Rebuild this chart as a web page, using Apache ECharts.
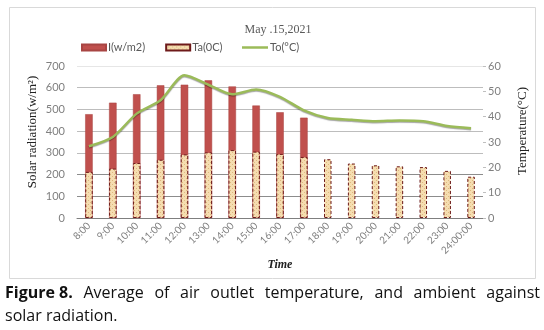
<!DOCTYPE html>
<html>
<head>
<meta charset="utf-8">
<script src="https://cdn.jsdelivr.net/npm/echarts@6/dist/echarts.min.js"></script>
<style>
  html, body { margin: 0; padding: 0; background: #fff; }
  #chart { width: 544px; height: 330px; }
</style>
</head>
<body>
<div id="chart"></div>
<script>
// Hourly readings, 15 May 2021
const hours = ['8:00', '9:00', '10:00', '11:00', '12:00', '13:00', '14:00', '15:00', '16:00',
               '17:00', '18:00', '19:00', '20:00', '21:00', '22:00', '23:00', '24:00:00'];
// Solar radiation I (W/m2)
const radiation = [478, 531, 570, 611, 614, 634, 606, 518, 487, 462,
                   null, null, null, null, null, null, null];
// Ambient temperature Ta (°C)
const ambientTemp = [18.2, 19.5, 21.7, 23.0, 25.1, 25.9, 26.8, 26.2, 25.3, 24.1,
                     23.2, 21.5, 20.8, 20.4, 20.1, 18.6, 16.3];
// Air outlet temperature To (°C)
const outletTemp = [28.3, 32.0, 41.2, 46.5, 56.3, 52.6, 48.8, 50.7, 47.8, 42.5,
                    39.5, 38.8, 38.2, 38.5, 38.2, 36.3, 35.4];
const radiationTicks = { min: 0, max: 700, step: 100 };
const tempTicks = { min: 0, max: 60, step: 10 };

// Dotted beige fill for the ambient temperature bars
function dottedFill() {
  const c = document.createElement('canvas');
  c.width = 4; c.height = 4;
  const g = c.getContext('2d');
  g.fillStyle = '#f5ddb0';
  g.fillRect(0, 0, 4, 4);
  g.fillStyle = '#dfb97f';
  g.fillRect(0, 0, 1, 1);
  g.fillRect(2, 2, 1, 1);
  return c;
}

// Caption lines; the first one is justified across the page width
const captionBold = 'Figure 8.';
const captionLine1 = 'Average of air outlet temperature, and ambient against';
const captionLine2 = 'solar radiation.';

function justifiedCaption(x0, x1, y) {
  const ctx = document.createElement('canvas').getContext('2d');
  const words = [{ t: captionBold, font: 'bold 16px "Open Sans"' }]
    .concat(captionLine1.split(' ').map(t => ({ t, font: '16px "Open Sans"' })));
  let total = 0;
  words.forEach(w => { ctx.font = w.font; w.w = ctx.measureText(w.t).width; total += w.w; });
  const gap = (x1 - x0 - total) / (words.length - 1);
  let x = x0;
  return words.map(w => {
    const el = {
      type: 'text', x: x, y: y,
      style: { text: w.t, font: w.font, fill: '#111', verticalAlign: 'middle' }
    };
    x += w.w + gap;
    return el;
  });
}

const chart = echarts.init(document.getElementById('chart'), null, { renderer: 'canvas' });
const gridLeft = 77, gridTop = 66, gridBottom = 112, gridRight = 61;
const legendText = { fontFamily: 'Lato', fontSize: 11, color: '#595959', padding: [0, 0, 0, -3] };

chart.setOption({
  animation: false,
  backgroundColor: '#fff',
  title: {
    text: 'May .15,2021',
    left: 273, top: 19, textAlign: 'center',
    textStyle: { fontFamily: 'Liberation Serif', fontWeight: 'normal', fontSize: 12, color: '#595959' }
  },
  legend: [
    {
      left: 81, top: 42, padding: 0,
      itemWidth: 24, itemHeight: 6, itemGap: 20,
      textStyle: legendText,
      data: [
        { name: 'I(w/m2)', icon: 'rect' },
        { name: 'Ta(0C)', icon: 'rect' }
      ]
    },
    {
      left: 242, top: 42, padding: 0,
      itemWidth: 26, itemHeight: 2.5,
      textStyle: legendText,
      data: [{ name: 'To(°C)', icon: 'rect' }]
    }
  ],
  grid: { left: gridLeft, right: gridRight, top: gridTop, bottom: gridBottom },
  xAxis: {
    type: 'category',
    data: hours,
    axisLine: { lineStyle: { color: '#7f7f7f' } },
    axisTick: { show: false },
    axisLabel: {
      rotate: 45, interval: 0, margin: 6,
      fontFamily: 'Lato', fontSize: 10, color: '#7f7f7f'
    },
    name: 'Time', nameLocation: 'middle', nameGap: 37,
    nameTextStyle: { fontFamily: 'Liberation Serif', fontStyle: 'italic', fontWeight: 'bold', fontSize: 12, color: '#222' }
  },
  yAxis: [
    {
      type: 'value',
      min: radiationTicks.min, max: radiationTicks.max, interval: radiationTicks.step,
      axisLine: { show: false },
      axisTick: { show: false },
      axisLabel: { fontFamily: 'Lato', fontSize: 11, color: '#7f7f7f', margin: 12 },
      splitLine: {
        lineStyle: {
          color: ['#8c8c8c', '#8c8c8c', '#8c8c8c', '#bdbdbd', '#bdbdbd', '#bdbdbd', '#bdbdbd', '#e6e6e6']
        }
      }
    },
    {
      type: 'value',
      min: tempTicks.min, max: tempTicks.max, interval: tempTicks.step,
      axisLine: { show: false },
      axisTick: { show: true, inside: false, length: 3, lineStyle: { color: '#bfbfbf' } },
      axisLabel: { fontFamily: 'Lato', fontSize: 11, color: '#7f7f7f', margin: 5 },
      splitLine: { show: false }
    }
  ],
  graphic: [
    {
      type: 'rect', silent: true, z: -10,
      shape: { x: 9.5, y: 7.5, width: 526, height: 271 },
      style: { fill: 'none', stroke: '#d9d9d9', lineWidth: 1 }
    },
    {
      type: 'text', x: 33, y: 132, rotation: Math.PI / 2,
      style: {
        text: 'Solar radiation(w/m\u00B2)', align: 'center', verticalAlign: 'middle',
        font: '13px "Liberation Serif"', fill: '#222'
      }
    },
    {
      type: 'text', x: 523, y: 131, rotation: Math.PI / 2,
      style: {
        text: 'Temperature(°C)', align: 'center', verticalAlign: 'middle',
        font: '13px "Liberation Serif"', fill: '#222'
      }
    },
    {
      type: 'text', x: 5, y: 316,
      style: {
        text: captionLine2, verticalAlign: 'middle',
        font: '16px "Open Sans"', fill: '#111'
      }
    }
  ].concat(justifiedCaption(5, 540, 293)),
  series: [
    {
      name: 'I(w/m2)',
      type: 'bar',
      yAxisIndex: 0,
      data: radiation,
      barWidth: 7.5,
      barGap: '-100%',
      itemStyle: { color: '#c0504d', borderColor: '#a84543', borderWidth: 0.5 }
    },
    {
      name: 'Ta(0C)',
      type: 'bar',
      yAxisIndex: 1,
      data: ambientTemp,
      barWidth: 7.5,
      barGap: '-100%',
      itemStyle: {
        color: { image: dottedFill(), repeat: 'repeat' },
        borderColor: '#6e1a1a', borderWidth: 1, borderType: [3, 2]
      }
    },
    {
      name: 'To(°C)',
      type: 'line',
      yAxisIndex: 1,
      data: outletTemp,
      smooth: 0.25,
      symbol: 'none',
      z: 5,
      lineStyle: {
        color: '#9bbb59', width: 2.5,
        shadowColor: 'rgba(0,0,0,0.35)', shadowBlur: 1, shadowOffsetY: 1
      },
      itemStyle: { color: '#9bbb59' }
    }
  ]
});
</script>
</body>
</html>
